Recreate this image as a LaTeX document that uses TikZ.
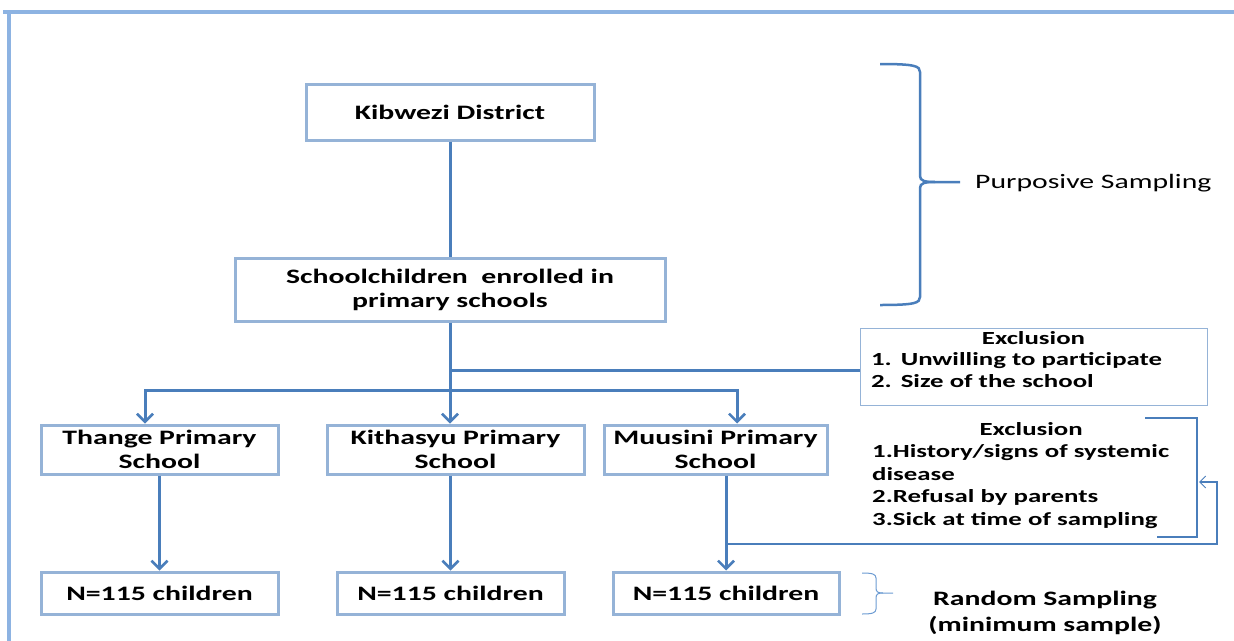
\documentclass[tikz,border=0pt]{standalone}
\usepackage{fontspec}
\setmainfont{Carlito}[FakeStretch=1.45]
\usetikzlibrary{arrows.meta}
\definecolor{framec}{HTML}{8DB3E2}
\definecolor{boxb}{HTML}{95B3D7}
\definecolor{conn}{HTML}{4A7EBB}
\definecolor{thinb}{HTML}{6C9BD2}
\begin{document}
\begin{tikzpicture}[x=1pt,y=-1pt,
  box/.style={draw=boxb, line width=3pt, fill=white, inner sep=0pt,
    font=\bfseries\fontsize{20.5}{24}\selectfont, align=center},
  exbox/.style={draw=boxb, line width=1pt, fill=white, inner sep=0pt,
    minimum width=347pt, minimum height=77pt,
    font=\bfseries\fontsize{18.5}{21.5}\selectfont},
  link/.style={draw=conn, line width=3pt},
  arr/.style={link, -{Straight Barb[length=8pt,width=16pt,line width=2.5pt]}},
  thinarr/.style={draw=conn, line width=1.3pt, -{Straight Barb[length=6pt,width=12pt,line width=1pt]}},
  brace/.style={draw=conn, line width=2.5pt},
  smallbrace/.style={draw=thinb, line width=1pt}]
\useasboundingbox (0,0) rectangle (1234,640);
% frame
\draw[framec, line width=4pt] (3,12) -- (1240,12);
\draw[framec, line width=4pt] (9,10) -- (9,645);
% boxes
\node[box, minimum width=288pt, minimum height=56pt] (kib) at (450,112) {Kibwezi District};
\node[box, minimum width=430pt, minimum height=63pt] (sc) at (450,289.5) {Schoolchildren\ \ enrolled in\\primary schools};
\node[box, minimum width=237pt, minimum height=49pt] (thange) at (159.5,449.5) {Thange Primary\\School};
\node[box, minimum width=257pt, minimum height=49pt] (kith) at (455.5,449.5) {Kithasyu Primary\\School};
\node[box, minimum width=223pt, minimum height=49pt] (muus) at (715.5,449.5) {Muusini Primary\\School};
\node[box, minimum width=237pt, minimum height=42pt] (n1) at (159.5,593) {N=115 children};
\node[box, minimum width=227pt, minimum height=42pt] (n2) at (450.5,593) {N=115 children};
\node[box, minimum width=226pt, minimum height=42pt] (n3) at (726,593) {N=115 children};
\node[exbox] (ex1) at (1033.5,366.5) {\parbox{335pt}{\centering Exclusion\par\raggedright\hspace*{5pt}1.\hspace{9pt}Unwilling to participate\par\hspace*{5pt}2.\hspace{9pt}Size of the school\par\vspace{14pt}}};
\node[anchor=north west, inner sep=0pt, text width=318pt,
  font=\bfseries\fontsize{18.5}{22.5}\selectfont] (ex2) at (872,422)
  {\centering Exclusion\par\raggedright 1.History/signs of systemic\par disease\par 2.Refusal by parents\par 3.Sick at time of sampling};
\node[anchor=west, inner sep=0pt, font=\fontsize{20.5}{24}\selectfont] (purp) at (975,183) {Purposive Sampling};
\node[inner sep=0pt, align=center, font=\bfseries\fontsize{20.5}{26}\selectfont] (rand) at (1045,613) {Random Sampling\\(minimum sample)};
% connectors
\coordinate (j2) at (450,370);
\coordinate (hl) at (145,390);
\coordinate (hr) at (737,390);
\draw[link] (kib.south) -- (sc.north);
\draw[arr] (sc.south) -- (sc.south |- kith.north);
\draw[link] (j2) -- (j2 -| ex1.west);
\draw[arr] (hr) -- (hl) -- (hl |- thange.north);
\draw[arr] (hl) -- (hr) -- (hr |- muus.north);
\draw[arr] (thange.south) -- (n1.north);
\draw[arr] (n2.north |- kith.south) -- (n2.north);
\draw[arr] (n3.north |- muus.south) -- (n3.north);
% exclusion 2 feedback
\coordinate (m1) at (n3.north |- 0,544);
\coordinate (fb1) at (1217,544);
\coordinate (fb2) at (1217,482);
\coordinate (fb3) at (1199,482);
\draw[thinarr] (m1) -- (fb1) -- (fb2) -- (fb3);
\draw[draw=conn, line width=2pt] (1145,418) -- (1197,418) -- (1197,537) -- (1157,537);
% braces
\draw[brace] (880,64) .. controls (915,64) and (920,66) .. (920,72) -- (920,176)
  .. controls (920,181) and (925,182) .. (935,182) -- (960,182);
\draw[brace] (935,182) .. controls (925,182) and (920,183) .. (920,188) -- (920,297)
  .. controls (920,303) and (915,305) .. (880,305);
\draw[smallbrace] (862,573) .. controls (872,573) and (876,574) .. (876,578) -- (876,588)
  .. controls (876,592) and (878,593) .. (883,593) -- (893,593);
\draw[smallbrace] (883,593) .. controls (878,593) and (876,594) .. (876,598) -- (876,609)
  .. controls (876,613) and (872,614) .. (862,614);
\end{tikzpicture}
\end{document}
